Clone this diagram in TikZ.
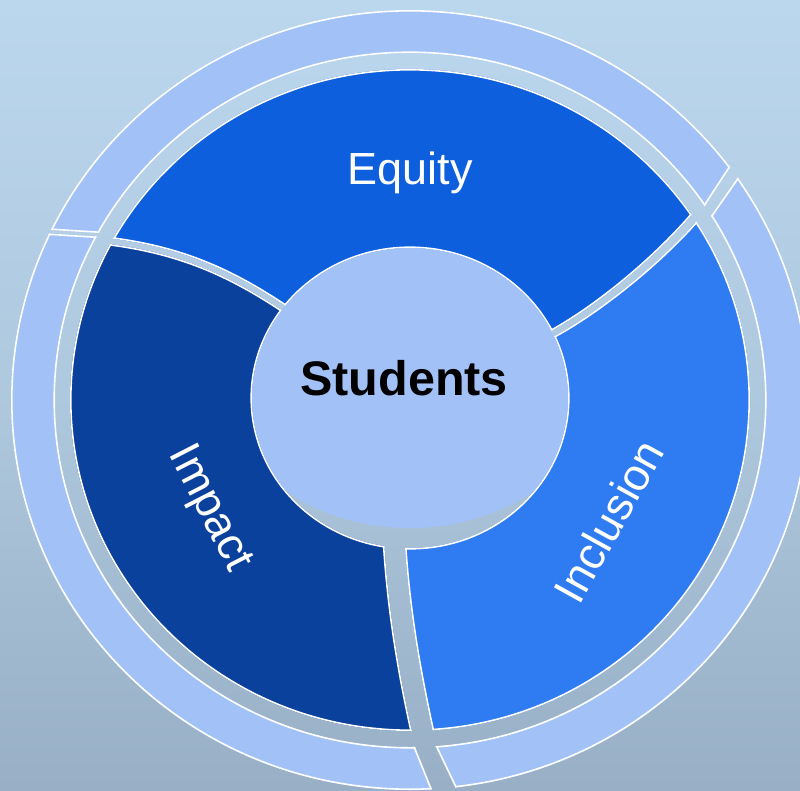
\documentclass[tikz,border=0pt]{standalone}
\usepackage{fontspec}
\setmainfont{Liberation Sans}
\definecolor{bgTop}{RGB}{187,215,238}
\definecolor{bgMid}{RGB}{174,200,222}
\definecolor{bgBot}{RGB}{152,175,197}
\definecolor{cEquity}{RGB}{13,95,221}
\definecolor{cImpact}{RGB}{10,65,156}
\definecolor{cInclusion}{RGB}{47,123,241}
\definecolor{cRing}{RGB}{162,194,247}
\definecolor{cLight}{RGB}{162,194,247}
\tikzset{
  whiteedge/.style={draw=white, line width=3.2pt},
  lbl/.style={text=white, font=\fontsize{45}{54}\selectfont, anchor=base, inner sep=0pt},
}
% annuli (outer ccw, inner cw -> nonzero rule leaves a hole)
\def\secpath{(750,400) arc[start angle=0,end angle=360,x radius=340,y radius=331] (568,398) arc[start angle=0,end angle=-360,x radius=158,y radius=150]}
\def\ringpath{(809,400) arc[start angle=0,end angle=360,x radius=399,y radius=390] (765,400) arc[start angle=0,end angle=-360,x radius=355,y radius=347]}
% sector wedges
\def\wEquity{(523.7,346.2) -- (550,331.7) .. controls (598.2,305.2) and (653.9,258.2) .. (690,216.7) -- (709.7,194.1) -- (820,80) -- (820,-20) -- (-20,-20) -- (-20,220) -- (85,234) -- (115,239) .. controls (180,248) and (228.6,267.7) .. (286.7,306.7) -- (306.7,320.1) -- cycle}
\def\wImpact{(83,239.5) -- (113,244.5) .. controls (178,253.5) and (226.6,273.2) .. (284.7,312.2) -- (304.6,325.6) -- (381.5,490) -- (383.5,530) .. controls (387,600) and (397,664) .. (412,732) -- (420.6,771) -- (430,820) -- (-20,820) -- (-20,239.5) -- cycle}
\def\wInclusion{(404,490) -- (404,530) .. controls (407.5,600) and (418,664) .. (433,732) -- (441.6,771) -- (452,820) -- (820,820) -- (820,100) -- (715.7,199.2) -- (696,221.9) .. controls (659.1,263.4) and (601.7,310.5) .. (552.9,337) -- (526.6,351.5) -- cycle}
% ring wedges
\def\rTop{(20,228) -- (130,235) -- (410,400) -- (690.8,227.5) -- (740.8,150.9) -- (820,30) -- (820,-20) -- (-20,-20) -- (-20,225.4) -- cycle}
\def\rRight{(410,400) -- (701.7,229.2) -- (755,152.6) -- (830,45) -- (830,830) -- (476,830) -- (465,807.6) -- (425,724.2) -- cycle}
\def\rLeft{(410,400) -- (406.7,726.4) -- (440,809) -- (448,830) -- (-30,830) -- (-30,228) -- (10,231) -- (120,238) -- cycle}
\begin{document}
\begin{tikzpicture}[x=1pt,y=-1pt]
\useasboundingbox (0,0) rectangle (800,790);
\shade[top color=bgTop, bottom color=bgBot, middle color=bgMid] (0,0) rectangle (800,790);
% outer ring segments
\foreach \w in {\rTop,\rRight,\rLeft}{
  \begin{scope}
    \clip \w;
    \clip \ringpath;
    \fill[cRing] (-50,-50) rectangle (850,850);
    \draw[whiteedge] \w;
    \draw[whiteedge] \ringpath;
  \end{scope}
}
% sectors
\begin{scope}
  \clip \wEquity;
  \clip \secpath;
  \fill[cEquity] (-50,-50) rectangle (850,850);
  \draw[whiteedge] \wEquity;
  \draw[whiteedge] \secpath;
\end{scope}
\begin{scope}
  \clip \wImpact;
  \clip \secpath;
  \fill[cImpact] (-50,-50) rectangle (850,850);
  \draw[whiteedge] \wImpact;
  \draw[whiteedge] \secpath;
\end{scope}
\begin{scope}
  \clip \wInclusion;
  \clip \secpath;
  \fill[cInclusion] (-50,-50) rectangle (850,850);
  \draw[whiteedge] \wInclusion;
  \draw[whiteedge] \secpath;
\end{scope}
% centre disc
\begin{scope}
  \clip (568,398) arc[start angle=0,end angle=360,x radius=158,y radius=150];
  \fill[cLight] (410,388) ellipse [x radius=183, y radius=140];
\end{scope}
% labels
\node[lbl] (equity) at (410,184) {Equity};
\node[lbl, rotate=-62.8] (impact) at (199.5,514) {Impact};
\node[lbl, rotate=61] (inclusion) at (622.5,529) {Inclusion};
\node[anchor=base, inner sep=0pt, font=\bfseries\fontsize{48.5}{58}\selectfont] (students) at (404,395) {Students};
\end{tikzpicture}
\end{document}
